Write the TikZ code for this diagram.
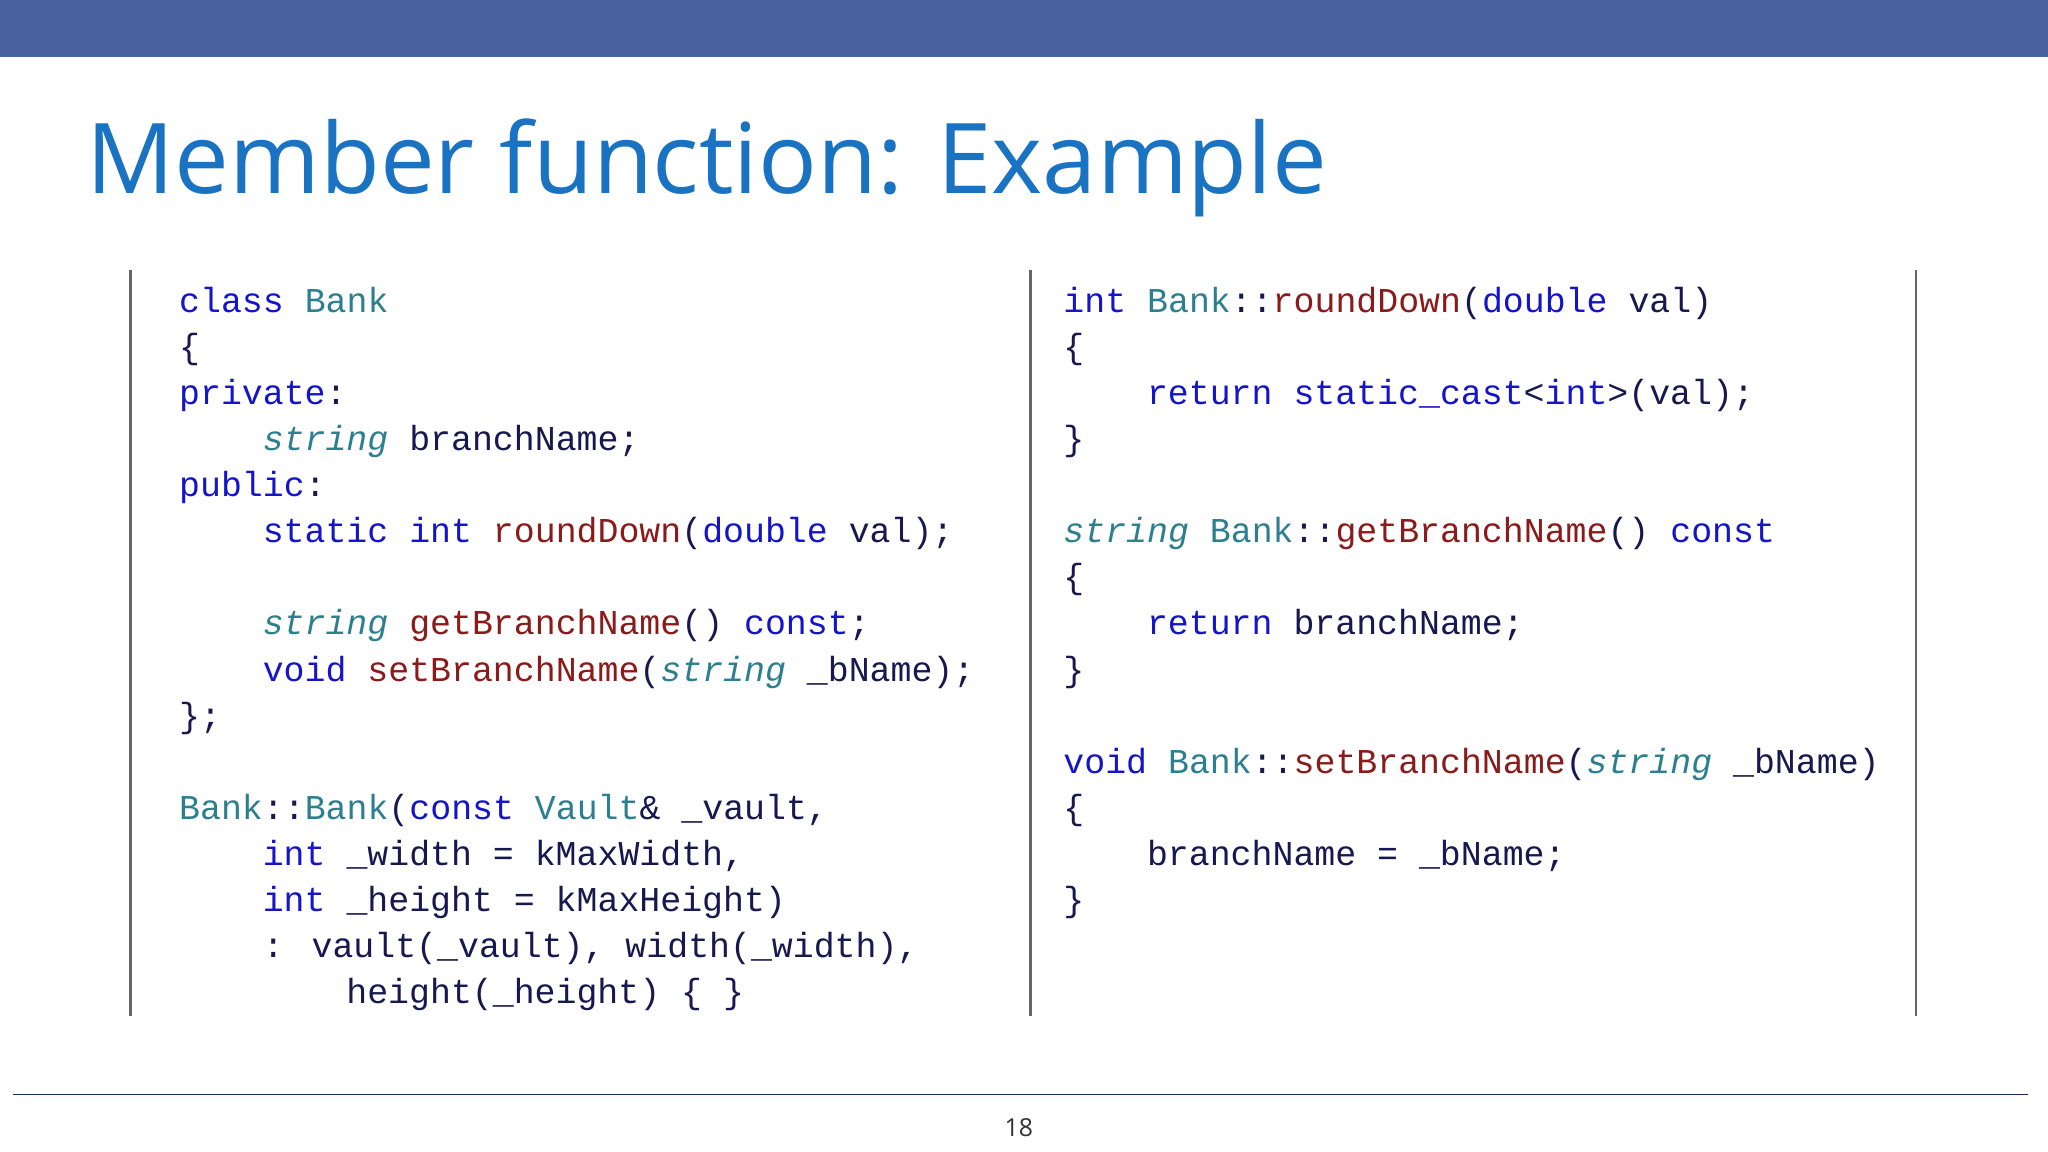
\documentclass[tikz,border=0pt]{standalone}
\usepackage{fontspec}
\setmainfont{Open Sans}
\newfontfamily\codefont{Liberation Mono}
\definecolor{barblue}{HTML}{4862A0}
\definecolor{titleblue}{HTML}{1A72C2}
\definecolor{kwc}{HTML}{1414C8}
\definecolor{tyc}{HTML}{2B7F8F}
\definecolor{fnc}{HTML}{8B1A1A}
\definecolor{idc}{HTML}{181850}
\definecolor{rulec}{HTML}{1A2A6A}
\newcommand{\kw}[1]{\textcolor{kwc}{#1}}
\newcommand{\ty}[1]{\textcolor{tyc}{#1}}
\newcommand{\fn}[1]{\textcolor{fnc}{#1}}
\newcommand{\its}[1]{\textcolor{tyc}{\itshape #1}}
\begin{document}
\begin{tikzpicture}[x=1pt,y=-1pt,
  code/.style={anchor=base west,inner sep=0pt,font=\codefont\fontsize{26.7}{30}\selectfont,text=idc},
  col/.style={draw=gray!80!black,line width=2pt}]
\useasboundingbox (0,0) rectangle (1568,882);
\fill[barblue] (0,0) rectangle (1568,44);
\node[anchor=base west,inner sep=0pt,text=titleblue,font=\fontsize{90}{100}\selectfont] (title) at (66,148) {\resizebox{950pt}{!}{Member function: Example}};
\coordinate (a1) at (100,207); \coordinate (a2) at (100,778);
\coordinate (b1) at (789,207); \coordinate (b2) at (789,778);
\coordinate (c1) at (1467,207); \coordinate (c2) at (1467,778);
\draw[col] (a1)--(a2); \draw[col] (b1)--(b2); \draw[col] (c1)--(c2);
\coordinate (r1) at (10,838); \coordinate (r2) at (1553,838);
\draw[rulec,line width=1.2pt] (r1)--(r2);
\node[inner sep=0pt,font=\fontsize{19}{22}\selectfont,text=black!80] (pg) at (780,863) {18};
\def\L#1{\fpeval{239+35.3*#1}}
% left
\node[code] (l0) at (137,\L{0}) {\kw{class} \ty{Bank}};
\node[code] (l1) at (137,\L{1}) {\{};
\node[code] (l2) at (137,\L{2}) {\kw{private}:};
\node[code] (l3) at (201,\L{3}) {\its{string} branchName;};
\node[code] (l4) at (137,\L{4}) {\kw{public}:};
\node[code] (l5) at (201,\L{5}) {\kw{static} \kw{int} \fn{roundDown}(\kw{double} val);};
\node[code] (l7) at (201,\L{7}) {\its{string} \fn{getBranchName}() \kw{const};};
\node[code] (l8) at (201,\L{8}) {\kw{void} \fn{setBranchName}(\its{string} \_bName);};
\node[code] (l9) at (137,\L{9}) {\};};
\node[code] (l11) at (137,\L{11}) {\ty{Bank}::\ty{Bank}(\kw{const} \ty{Vault}\& \_vault,};
\node[code] (l12) at (201,\L{12}) {\kw{int} \_width = kMaxWidth,};
\node[code] (l13) at (201,\L{13}) {\kw{int} \_height = kMaxHeight)};
\node[code] (l14) at (201,\L{14}) {: vault(\_vault), width(\_width),};
\node[code] (l15) at (265,\L{15}) {height(\_height) \{ \}};
% right
\node[code] (r0) at (814,\L{0}) {\kw{int} \ty{Bank}::\fn{roundDown}(\kw{double} val)};
\node[code] (rr1) at (814,\L{1}) {\{};
\node[code] (rr2) at (878,\L{2}) {\kw{return} \kw{static\_cast}<\kw{int}>(val);};
\node[code] (rr3) at (814,\L{3}) {\}};
\node[code] (rr5) at (814,\L{5}) {\its{string} \ty{Bank}::\fn{getBranchName}() \kw{const}};
\node[code] (rr6) at (814,\L{6}) {\{};
\node[code] (rr7) at (878,\L{7}) {\kw{return} branchName;};
\node[code] (rr8) at (814,\L{8}) {\}};
\node[code] (rr10) at (814,\L{10}) {\kw{void} \ty{Bank}::\fn{setBranchName}(\its{string} \_bName)};
\node[code] (rr11) at (814,\L{11}) {\{};
\node[code] (rr12) at (878,\L{12}) {branchName = \_bName;};
\node[code] (rr13) at (814,\L{13}) {\}};
\end{tikzpicture}
\end{document}
